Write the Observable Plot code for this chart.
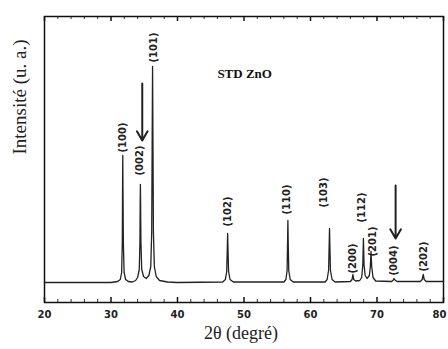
<!DOCTYPE html>
<html><head><meta charset="utf-8">
<script src="https://cdn.jsdelivr.net/npm/d3@7"></script>
<script src="https://cdn.jsdelivr.net/npm/@observablehq/plot@0.6"></script>
<style>body{margin:0;background:#fff}</style>
</head><body><div id="chart"></div>
<script>
// XRD pattern of standard ZnO (2θ in degrees, intensity in arbitrary units)
const twoTheta = [20,25,30,31.0,31.4,31.6,31.7,31.74,31.77,31.8,31.86,31.97,32.2,32.6,33.2,33.7,34.0,34.25,34.35,34.39,34.42,34.45,34.5,34.62,34.9,35.3,35.7,35.98,36.12,36.19,36.25,36.31,36.38,36.52,36.8,37.3,38.5,40,46.8,47.2,47.4,47.49,47.54,47.59,47.68,47.9,48.4,56.0,56.3,56.48,56.55,56.6,56.65,56.73,56.95,57.4,62.2,62.5,62.72,62.81,62.86,62.91,63.0,63.25,63.7,66.0,66.25,66.38,66.5,66.8,67.4,67.7,67.87,67.96,68.05,68.22,68.5,68.85,69.0,69.1,69.2,69.4,69.8,72.2,72.45,72.56,72.7,73.0,76.5,76.8,76.95,77.1,77.4,80];
const counts   = [20,20,20,21,23,30,60,115,147,115,60,30,23,21,20.5,22,25,33,60,100,118,100,60,33,26,24,27,36,70,160,236,160,70,36,26,22,20.5,20,20.5,23,31,55,69,55,31,23,20.5,20.5,23,32,60,82,60,32,23,20.5,20.5,23,32,58,74,58,32,23,20.5,21,23,28,23,21.5,22,25,38,64,38,27,24,27,36,51,36,25,21.5,21,22.5,24,22.5,21,21,23,28,23,21,21];

const peakLabels = ["(100)","(002)","(101)","(102)","(110)","(103)","(200)","(112)","(201)","(004)","(202)"];
const peakLabelX = [31.7,34.4,36.4,47.5,56.5,62.0,66.3,67.7,69.3,72.6,77.0];
const peakLabelY = [165,142,255,91,103,110,44,95,61,42,46];

const arrowX  = [34.7,72.8];
const arrowY1 = [219,117];
const arrowY2 = [162,64];

const titleText = ["STD ZnO"];
const titleX = [50.1];
const titleY = [229];

const majorTicks = [20,30,40,50,60,70,80];
const tickLabels = [20,30,40,50,60,70];
const lastTickLabel = [80];
const minorTicks = [22,24,26,28,32,34,36,38,42,44,46,48,52,54,56,58,62,64,66,68,72,74,76,78];

const xLabel = "2θ (degré)";
const yLabel = "Intensité (u. a.)";

const spectrum = twoTheta.map((t,i)=>({t, c: counts[i]}));
const labels = peakLabels.map((s,i)=>({s, x: peakLabelX[i], y: peakLabelY[i]}));
const arrows = arrowX.map((x,i)=>({x, y1: arrowY1[i], y2: arrowY2[i]}));
const titles = titleText.map((s,i)=>({s, x: titleX[i], y: titleY[i]}));

const W=448,H=349,mT=16,mB=47,mL=44,mR=5;
const innerH = H-mT-mB;
const tickFont = {fontWeight: "bold", fontSize: 10, fontFamily: "'DejaVu Sans', sans-serif", fill: "#222"};

const chart = Plot.plot({
  width: W, height: H,
  marginTop: mT, marginBottom: mB, marginLeft: mL, marginRight: mR,
  x: {domain: [20,80], label: null},
  y: {domain: [0,286], axis: null},
  style: {background: "#fff", color: "#111", fontFamily: "'Liberation Serif', serif"},
  marks: [
    Plot.tickX(minorTicks, {x: d=>d, insetTop: innerH-3, stroke: "#333"}),
    Plot.tickX(minorTicks, {x: d=>d, insetBottom: innerH-3, stroke: "#333"}),
    Plot.tickX(majorTicks, {x: d=>d, insetTop: innerH-5, stroke: "#111", strokeWidth: 1.5}),
    Plot.tickX(majorTicks, {x: d=>d, insetBottom: innerH-5, stroke: "#111", strokeWidth: 1.5}),
    Plot.axisX(tickLabels, {tickSize: 0, tickPadding: 8, tickFormat: d3.format("d"), label: null, ...tickFont}),
    Plot.axisX(lastTickLabel, {tickSize: 0, tickPadding: 8, tickFormat: d3.format("d"), label: null, dx: -4, ...tickFont}),
    Plot.frame({stroke: "#111", strokeWidth: 1.5}),
    Plot.line(spectrum, {x: "t", y: "c", stroke: "#222", strokeWidth: 1.3}),
    Plot.text(labels, {x: "x", y: "y", text: "s", rotate: -90, fontWeight: "bold", fontSize: 10, fontFamily: "'DejaVu Sans', sans-serif", fill: "#222"}),
    Plot.arrow(arrows, {x1: "x", x2: "x", y1: "y1", y2: "y2", stroke: "#222", strokeWidth: 2, headLength: 8}),
    Plot.text(titles, {x: "x", y: "y", text: "s", fontWeight: "bold", fontSize: 13, fontFamily: "'Liberation Serif', serif", fill: "#111"}),
    Plot.text([xLabel], {frameAnchor: "bottom", dy: 36, dx: -3, fontSize: 18, fontFamily: "'Liberation Serif', serif", fill: "#222"}),
    Plot.text([yLabel], {frameAnchor: "left", rotate: -90, dx: -25, dy: -5, fontSize: 19, fontFamily: "'Liberation Serif', serif", fill: "#222"})
  ]
});
document.getElementById("chart").appendChild(chart);
</script>
</body></html>
